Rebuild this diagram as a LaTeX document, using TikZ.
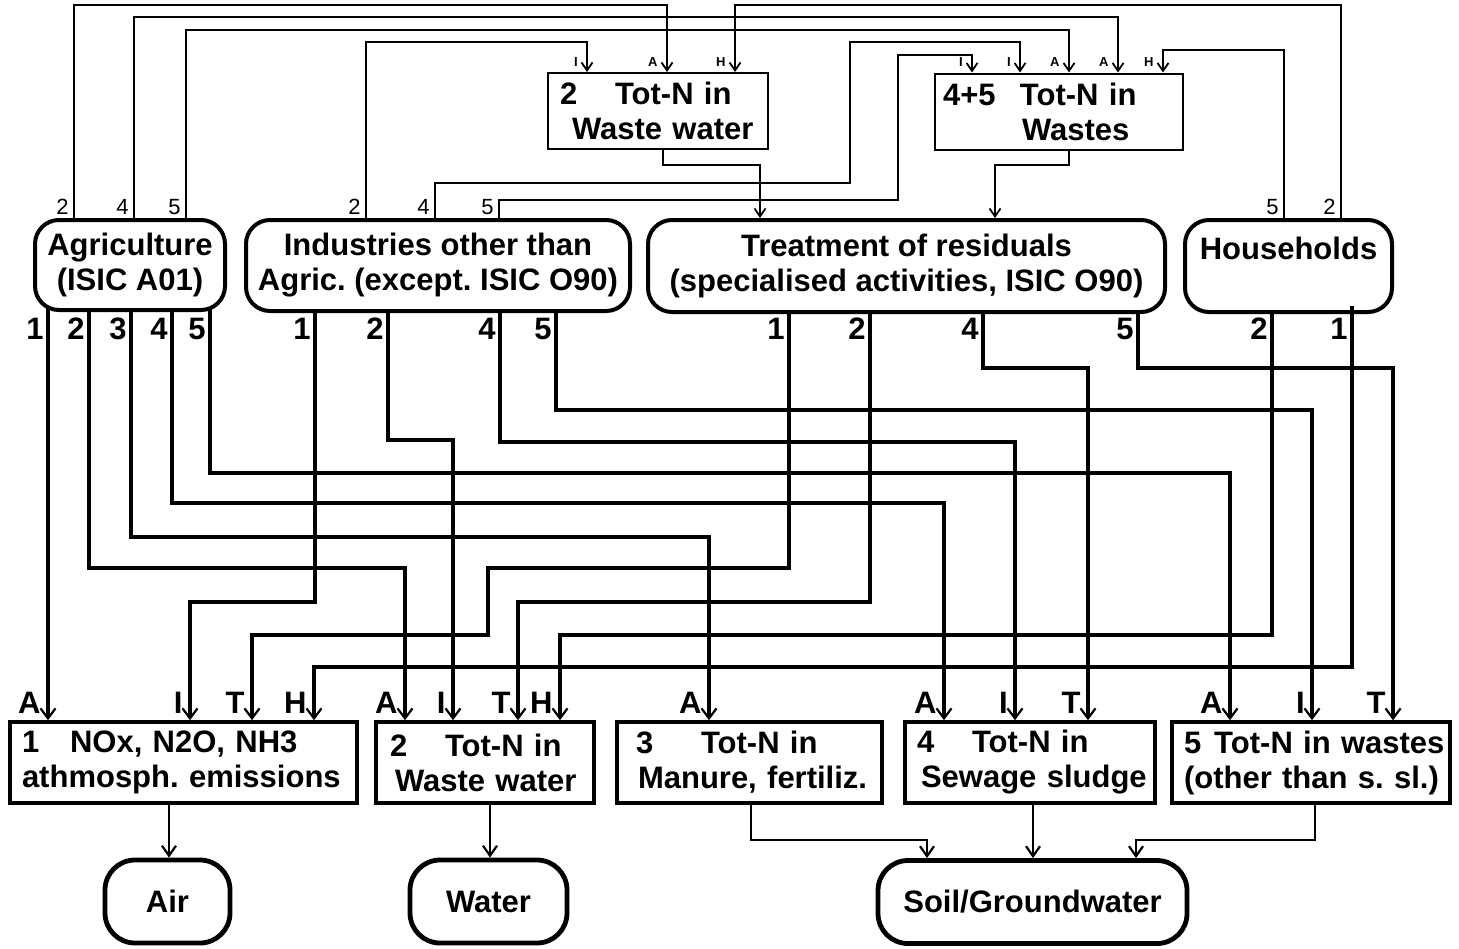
\documentclass[tikz,border=0pt]{standalone}
\usepackage{fontspec}
\setmainfont{Liberation Sans}
\usetikzlibrary{arrows.meta}
\frenchspacing
\begin{document}
\begin{tikzpicture}[x=0.5pt,y=-0.5pt,
  big/.style={font=\frenchspacing\bfseries\fontsize{15.5}{17.5}\selectfont},
  srcbox/.style={draw,line width=2pt,rounded corners=12pt,inner sep=0pt,align=center,big},
  midbox/.style={draw,line width=1pt,inner xsep=6pt,inner ysep=0pt,align=left,big,minimum height=38pt},
  outbox/.style={draw,line width=1.8pt,inner xsep=6pt,inner ysep=0pt,align=left,big,minimum height=40.5pt},
  sink/.style={draw,line width=2.4pt,rounded corners=15pt,inner sep=0pt,big,minimum height=41.5pt},
  thinarr/.style={line width=0.9pt,-{Straight Barb[length=4pt 0,width=5.5pt 0,line width=0.9pt 0]}},
  thickarr/.style={line width=1.8pt,-{Straight Barb[length=5pt 0,width=7.5pt 0,line width=1.1pt 0]}},
  outarr/.style={line width=1.3pt,-{Straight Barb[length=5pt 0,width=7pt 0,line width=1.1pt 0]}},
  toplbl/.style={font=\fontsize{11}{11}\selectfont,inner sep=0pt,anchor=east},
  tinylbl/.style={font=\bfseries\fontsize{6.5}{6.5}\selectfont,inner sep=0pt,anchor=east},
  lbl/.style={font=\bfseries\fontsize{15.5}{15.5}\selectfont,inner sep=0pt,anchor=east},
]
\fill[white] (0,0) rectangle (1459,948);
\useasboundingbox (0,0) rectangle (1459,948);

% source boxes
\node[srcbox,minimum width=95pt,minimum height=45pt] (agr) at (130,265) {Agriculture\\(ISIC A01)};
\node[srcbox,minimum width=192pt,minimum height=45.5pt] (ind) at (438,265.5) {Industries other than\\Agric. (except. ISIC O90)};
\node[srcbox,minimum width=258.5pt,minimum height=46pt] (trt) at (906.5,266) {Treatment of residuals\\(specialised activities, ISIC O90)};
\node[srcbox,minimum width=103.5pt,minimum height=46pt] (hh) at (1288.5,266) {Households\\\mbox{}};

% intermediate boxes
\node[midbox,minimum width=110pt,text width=98pt] (ww1) at (658,111) {\mbox{2\hspace{18.9pt}Tot-N in}\\\mbox{\hspace{6pt}Waste water}};
\node[midbox,inner xsep=4pt,minimum width=124pt,text width=116pt] (wst) at (1059,111.5) {\mbox{4+5\hspace{12.2pt}Tot-N in}\\\mbox{\hspace{39.5pt}Wastes}};

% output boxes
\node[outbox,minimum width=173.5pt,text width=161.5pt] (b1) at (183.5,762.5) {\mbox{1\hspace{15.4pt}NOx, N2O, NH3}\\\mbox{athmosph. emissions}};
\node[outbox,minimum width=109pt,text width=97pt] (b2) at (485,762.5) {\mbox{\hspace{1pt}2\hspace{18.9pt}Tot-N in}\\\mbox{\hspace{3.5pt}Waste water}};
\node[outbox,minimum width=132.5pt,text width=120.5pt] (b3) at (749.5,762.5) {\mbox{\hspace{3.5pt}3\hspace{23.9pt}Tot-N in}\\\mbox{\hspace{4.5pt}Manure, fertiliz.}};
\node[outbox,minimum width=125pt,text width=113pt] (b4) at (1030,762.5) {\mbox{4\hspace{18.9pt}Tot-N in}\\\mbox{\hspace{2pt}Sewage sludge}};
\node[outbox,minimum width=139pt,text width=127pt] (b5) at (1311,762.5) {\mbox{5\hspace{6.5pt}Tot-N in wastes}\\\mbox{(other than s. sl.)}};

% sinks
\node[sink,minimum width=62.5pt] (air) at (167.5,901.5) {Air};
\node[sink,minimum width=78.5pt] (water) at (488.5,901.5) {Water};
\node[sink,minimum width=154.5pt] (soil) at (1032.5,902) {Soil/Groundwater};

% top connectors
\draw[thinarr] (agr.north -| 74,0) |- (667,5) -- (ww1.north -| 667,0);
\draw[thinarr] (agr.north -| 134,0) |- (1118,17) -- (wst.north -| 1118,0);
\draw[thinarr] (agr.north -| 186,0) |- (1069,30) -- (wst.north -| 1069,0);
\draw[thinarr] (ind.north -| 366,0) |- (587,42) -- (ww1.north -| 587,0);
\draw[thinarr] (ind.north -| 435,0) |- (850,183) |- (1020,42) -- (wst.north -| 1020,0);
\draw[thinarr] (ind.north -| 499,0) |- (898,200) |- (972,55) -- (wst.north -| 972,0);
\draw[thinarr] (hh.north -| 1284,0) |- (1163,50) -- (wst.north -| 1163,0);
\draw[thinarr] (hh.north -| 1341,0) |- (735,5) -- (ww1.north -| 735,0);
\draw[thinarr] (ww1.south -| 663,0) |- (760,165) -- (trt.north -| 760,0);
\draw[thinarr] (wst.south -| 1069,0) |- (995,165) -- (trt.north -| 995,0);

% lower connectors
\draw[thickarr] (agr.south -| 48,0) ++(0,-4) -- (b1.north -| 48,0);
\draw[thickarr] (agr.south -| 89,0) |- (405,568) -- (b2.north -| 405,0);
\draw[thickarr] (agr.south -| 131,0) |- (709,537) -- (b3.north -| 709,0);
\draw[thickarr] (agr.south -| 172,0) |- (944,503) -- (b4.north -| 944,0);
\draw[thickarr] (agr.south -| 210,0) ++(0,-4) |- (1230,473) -- (b5.north -| 1230,0);
\draw[thickarr] (ind.south -| 315,0) |- (190,602) -- (b1.north -| 190,0);
\draw[thickarr] (ind.south -| 388,0) |- (453,440) -- (b2.north -| 453,0);
\draw[thickarr] (ind.south -| 500,0) |- (1015,442) -- (b4.north -| 1015,0);
\draw[thickarr] (ind.south -| 556,0) |- (1312,410) -- (b5.north -| 1312,0);
\draw[thickarr] (trt.south -| 789,0) |- (488,568) |- (252,635) -- (b1.north -| 252,0);
\draw[thickarr] (trt.south -| 870,0) |- (518,602) -- (b2.north -| 518,0);
\draw[thickarr] (trt.south -| 983,0) |- (1088,368) -- (b4.north -| 1088,0);
\draw[thickarr] (trt.south -| 1138,0) |- (1393,368) -- (b5.north -| 1393,0);
\draw[thickarr] (hh.south -| 1272,0) |- (560,635) -- (b2.north -| 560,0);
\draw[thickarr] (hh.south -| 1352,0) ++(0,-8) |- (314,667) -- (b1.north -| 314,0);

% to sinks
\draw[outarr] (b1.south -| 169,0) -- (air.north -| 169,0);
\draw[outarr] (b2.south -| 490,0) -- (water.north -| 490,0);
\draw[outarr] (b3.south -| 751,0) |- (927,840) -- (soil.north -| 927,0);
\draw[outarr] (b4.south -| 1033,0) -- (soil.north -| 1033,0);
\draw[outarr] (b5.south -| 1315,0) |- (1136,840) -- (soil.north -| 1136,0);

% labels
\foreach \x/\t [count=\i] in {74/2,134/4,186/5,366/2,435/4,499/5,1284/5,1341/2}
  \node[toplbl] (ts\i) at (\x-5,207) {\t};
\foreach \x/\t [count=\i] in {587/I,667/A,735/H,972/I,1020/I,1069/A,1118/A,1163/H}
  \node[tinylbl] (tl\i) at (\x-9,62) {\t};
\foreach \x/\t [count=\i] in {48/1,89/2,131/3,172/4,210/5,315/1,388/2,500/4,556/5,789/1,870/2,983/4,1138/5,1272/2,1352/1}
  \node[lbl] (sl\i) at (\x-4,329) {\t};
\foreach \x/\t [count=\i] in {48/A,190/I,252/T,314/H,405/A,453/I,518/T,560/H,709/A,944/A,1015/I,1088/T,1230/A,1312/I,1393/T}
  \node[lbl] (al\i) at (\x-7,703) {\t};
\end{tikzpicture}
\end{document}
